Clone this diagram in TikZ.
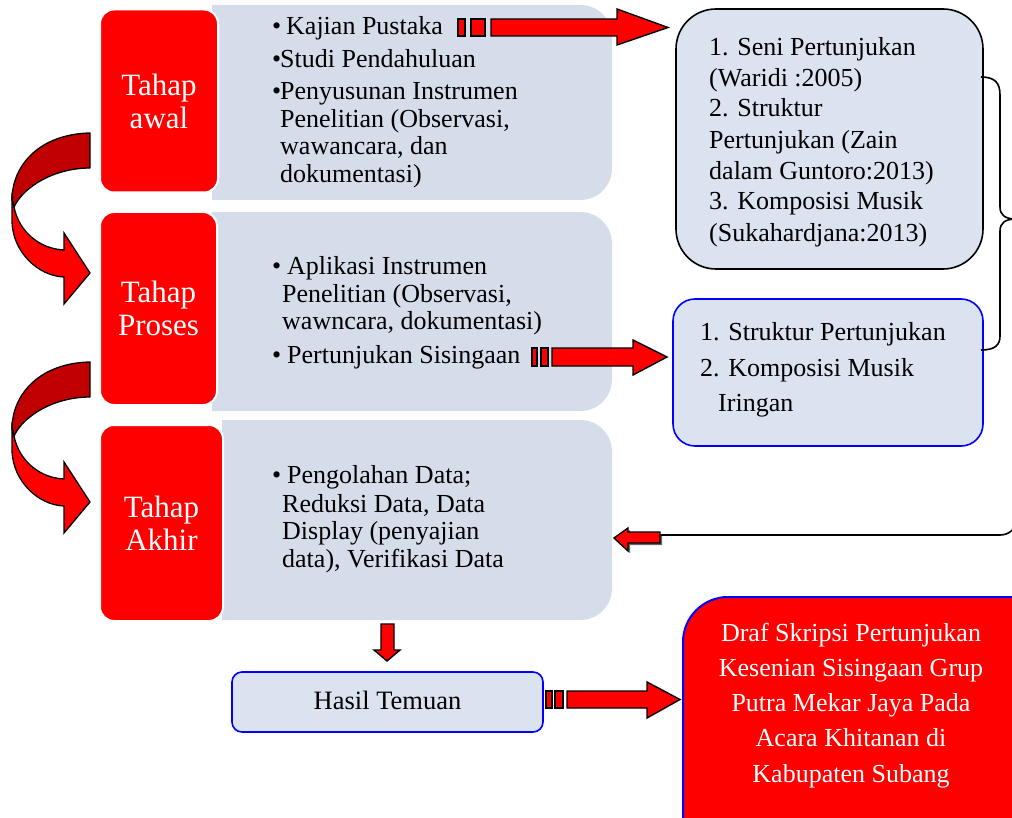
\documentclass[tikz,border=0pt]{standalone}
\usepackage{fontspec}
\setmainfont{Liberation Serif}
\definecolor{panel}{RGB}{213,220,234}
\definecolor{boxfill}{RGB}{219,227,240}
\definecolor{darkred}{RGB}{192,0,0}
\definecolor{myblue}{RGB}{0,0,255}
\tikzset{
  redbox/.style={draw=white, line width=2pt, fill=red, rounded corners=14pt, text=white, align=center, font=\fontsize{31}{33}\selectfont, inner sep=0pt},
  txt/.style={anchor=base west, inner sep=0pt, font=\fontsize{26}{28}\selectfont},
  wtxt/.style={anchor=base, inner sep=0pt, text=white, font=\fontsize{26}{28}\selectfont},
  barrow/.style={fill=red, draw=black, line width=1.4pt, line join=miter},
  conn/.style={line width=1.6pt},
  curvarrow/.pic={
    \filldraw[fill=darkred, draw=black, line width=1.3pt, line join=round]
      (90,133) .. controls (40,134) and (12,165) .. (12,200) -- (14,207)
      .. controls (24,186) and (55,168) .. (90,168) -- cycle;
    \filldraw[fill=red, draw=black, line width=1.3pt, line join=miter]
      (12,198) -- (12,222) .. controls (13,252) and (38,276) .. (64,277)
      -- (64,304) -- (90,273) -- (64,233) -- (64,250)
      .. controls (40,249) and (19,232) .. (14,207) -- cycle;
  }
}
\begin{document}
\begin{tikzpicture}[x=1pt,y=-1pt]
\useasboundingbox (0,0) rectangle (1012,818);
\clip (0,0) rectangle (1012,818);

% panels
\fill[panel] (212,5) -- (580,5) .. controls (598,5) and (612,19) .. (612,37) -- (612,168) .. controls (612,186) and (598,200) .. (580,200) -- (212,200) -- cycle;
\fill[panel] (212,212) -- (580,212) .. controls (598,212) and (612,226) .. (612,244) -- (612,379) .. controls (612,397) and (598,411) .. (580,411) -- (212,411) -- cycle;
\fill[panel] (222,420) -- (580,420) .. controls (598,420) and (612,434) .. (612,452) -- (612,588) .. controls (612,606) and (598,620) .. (580,620) -- (222,620) -- cycle;

% red stage boxes
\node[redbox, minimum width=118pt, minimum height=183pt] (t1) at (159,101) {Tahap\\awal};
\node[redbox, minimum width=117pt, minimum height=193pt] (t2) at (158.5,308.5) {Tahap\\Proses};
\node[redbox, minimum width=123pt, minimum height=196pt] (t3) at (161.5,523) {Tahap\\Akhir};

% curved arrows
\pic (ca1) at (0,0) {curvarrow};
\pic (ca2) at (0,229) {curvarrow};

% panel texts
\node[txt] (p1a) at (272,35) {\makebox[14pt][l]{•}Kajian Pustaka};
\node[txt] (p1b) at (272,68) {\makebox[8pt][l]{•}Studi Pendahuluan};
\node[txt] (p1c) at (272,100) {\makebox[8pt][l]{•}Penyusunan Instrumen};
\node[txt] (p1d) at (280,128) {Penelitian (Observasi,};
\node[txt] (p1e) at (280,155) {wawancara, dan};
\node[txt] (p1f) at (280,183) {dokumentasi)};

\node[txt] (p2a) at (272,275) {\makebox[15pt][l]{•}Aplikasi Instrumen};
\node[txt] (p2b) at (282,303) {Penelitian (Observasi,};
\node[txt] (p2c) at (282,330) {wawncara, dokumentasi)};
\node[txt] (p2d) at (272,363) {\makebox[15pt][l]{•}Pertunjukan Sisingaan};

\node[txt] (p3a) at (272,483) {\makebox[15pt][l]{•}Pengolahan Data;};
\node[txt] (p3b) at (282,512) {Reduksi Data, Data};
\node[txt] (p3c) at (282,539) {Display (penyajian};
\node[txt] (p3d) at (282,567) {data), Verifikasi Data};

% right boxes
\node[draw=black, line width=1.6pt, fill=boxfill, rounded corners=40pt, minimum width=307pt, minimum height=260pt] (ref) at (829.5,139) {};
\node[txt] (r1) at (709,56) {1. Seni Pertunjukan};
\node[txt] (r2) at (709,87) {(Waridi :2005)};
\node[txt] (r3) at (709,117) {2. Struktur};
\node[txt] (r4) at (709,149) {Pertunjukan (Zain};
\node[txt] (r5) at (709,180) {dalam Guntoro:2013)};
\node[txt] (r6) at (709,210) {3. Komposisi Musik};
\node[txt] (r7) at (709,242) {(Sukahardjana:2013)};

\node[draw=myblue, line width=1.6pt, fill=boxfill, rounded corners=22pt, minimum width=310pt, minimum height=147pt] (res) at (828,372.5) {};
\node[txt] (s1) at (700,341) {1. Struktur Pertunjukan};
\node[txt] (s2) at (700,376) {2. Komposisi Musik};
\node[txt] (s3) at (718,411) {Iringan};

% hasil temuan
\node[draw=myblue, line width=1.6pt, fill=boxfill, rounded corners=10pt, minimum width=311pt, minimum height=60pt] (hasil) at (387.5,702) {};
\node[anchor=base, inner sep=0pt, font=\fontsize{26.5}{28}\selectfont] (hasilt) at (387.5,709) {Hasil Temuan};

% final box
\node[draw=myblue, line width=2pt, fill=red, rounded corners=45pt, minimum width=377pt, minimum height=263pt] (draf) at (871.5,728.5) {};
\node[wtxt] (d1) at (851,641) {Draf Skripsi Pertunjukan};
\node[wtxt] (d2) at (851,676) {Kesenian Sisingaan Grup};
\node[wtxt] (d3) at (851,711) {Putra Mekar Jaya Pada};
\node[wtxt] (d4) at (851,746) {Acara Khitanan di};
\node[wtxt] (d5) at (851,782) {Kabupaten Subang};

% striped block arrows
\filldraw[barrow] (458,19) rectangle (465,36);
\filldraw[barrow] (471,19) rectangle (485,36);
\filldraw[barrow] (491,19) -- (617,19) -- (617,9) -- (668,27.5) -- (617,45) -- (617,36) -- (491,36) -- cycle;

\filldraw[barrow] (532,348) rectangle (537,366);
\filldraw[barrow] (541,348) rectangle (548,366);
\filldraw[barrow] (552,348) -- (633,348) -- (633,340) -- (667,357) -- (633,375) -- (633,366) -- (552,366) -- cycle;

\filldraw[barrow] (546,691) rectangle (552,708);
\filldraw[barrow] (555,691) rectangle (563,708);
\filldraw[barrow] (567,691) -- (647,691) -- (647,682) -- (680,699.5) -- (647,718) -- (647,708) -- (567,708) -- cycle;

% down arrow
\filldraw[barrow] (381,624) -- (394,624) -- (394,650) -- (400,650) -- (387,661) -- (374,650) -- (381,650) -- cycle;

% brace and return connector
\coordinate (btop) at (981,77);
\coordinate (bbot) at (981,350);
\coordinate (btip) at (1016,219);
\coordinate (cend) at (660,535);
\draw[conn] (btop) .. controls (995,77) and (1000,83) .. (1000,95) -- (1000,207)
  .. controls (1000,215) and (1005,219) .. (btip)
  .. controls (1005,219) and (1000,223) .. (1000,231) -- (1000,336)
  .. controls (1000,345) and (995,350) .. (bbot);
\draw[conn] (btip) -- (1016,520) .. controls (1016,529) and (1009,535) .. (1000,535) -- (cend);

% small left arrow with shadow
\fill[black, opacity=0.6] (662,534) -- (630,534) -- (630,530) -- (616,540) -- (630,553) -- (630,545) -- (662,545) -- cycle;
\filldraw[barrow] (660,532) -- (628,532) -- (628,528) -- (614,538) -- (628,551) -- (628,543) -- (660,543) -- cycle;

\end{tikzpicture}
\end{document}
